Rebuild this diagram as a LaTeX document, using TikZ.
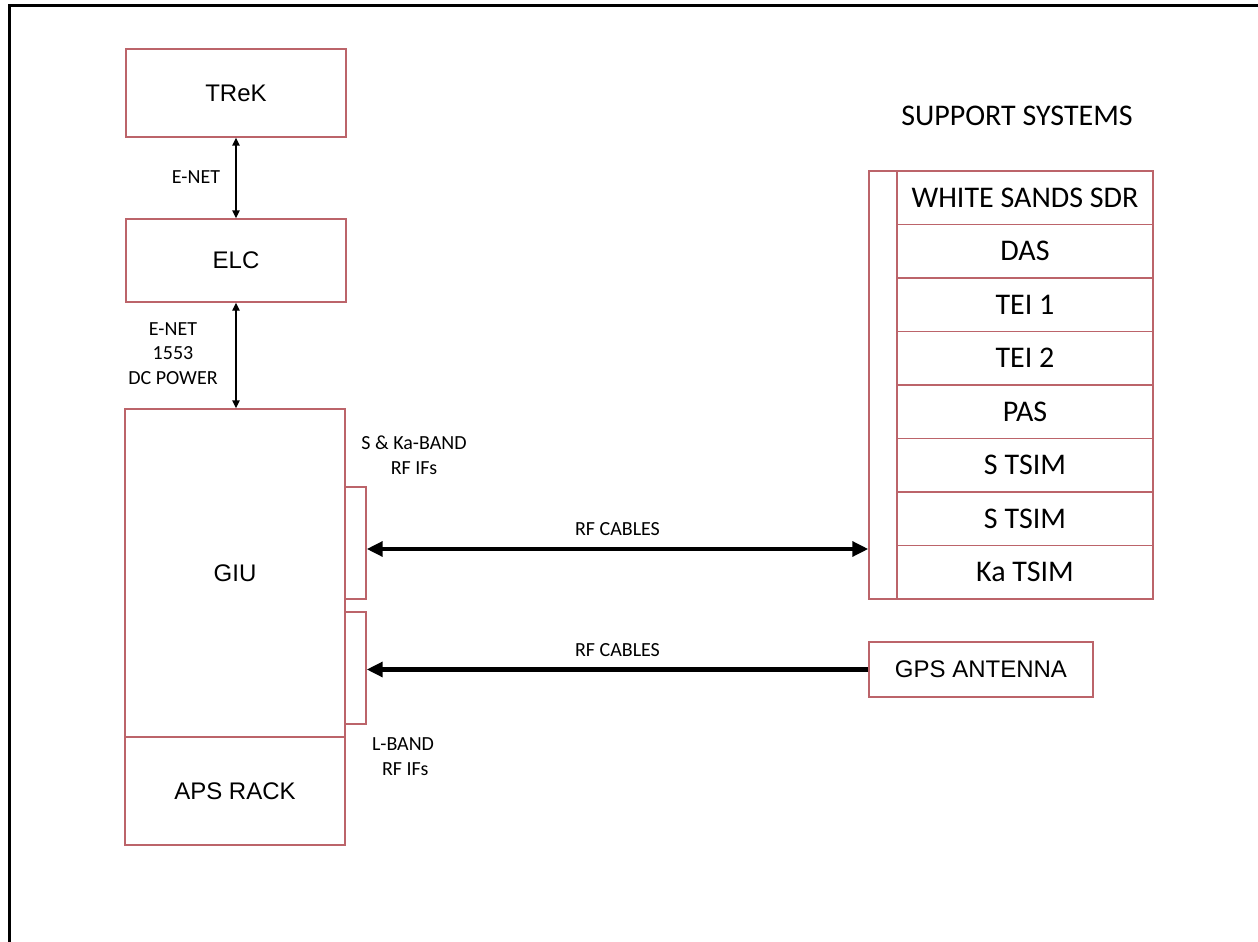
\documentclass[tikz,border=0pt]{standalone}
\usepackage{fontspec}
\setmainfont{Carlito}
\newfontfamily\arialfont{Liberation Sans}
\usetikzlibrary{arrows.meta}
\definecolor{boxred}{RGB}{188,100,106}

\begin{document}
\begin{tikzpicture}[x=0.75pt,y=-0.75pt,
    blk/.style={draw=boxred,line width=1pt,inner sep=0pt,minimum width=165pt,
        font=\arialfont\fontsize{18}{21}\selectfont},
    port/.style={draw=boxred,line width=1pt,inner sep=0pt,minimum width=15.75pt,minimum height=84pt},
    sysrow/.style={draw=boxred,line width=1pt,inner sep=0pt,minimum width=192pt,minimum height=40.125pt,
        font=\fontsize{22.5}{26}\selectfont},
    lbl/.style={align=center,inner sep=0pt,font=\fontsize{15}{18.6}\selectfont},
    link/.style={line width=1pt,{Triangle[length=6pt,width=5.5pt]}-{Triangle[length=6pt,width=5.5pt]}},
    cable/.style={line width=3.4pt,-{Triangle[length=12pt,width=11pt]}}]
    \useasboundingbox (0,0) rectangle (1258,942);
    % frame
    \draw[line width=2.25pt] (9.5,942) -- (9.5,5.8) -- (1258,5.8);

    % left column
    \node[blk,minimum height=66pt] (trek) at (236,93) {TReK};
    \node[blk,minimum height=62.25pt] (elc) at (236,260.5) {ELC};
    \node[blk,minimum height=246pt] (giu) at (235,573) {GIU};
    \node[blk,minimum height=81pt] (aps) at (235,791) {APS RACK};
    \node[port] (portA) at (355.5,543) {};
    \node[port] (portB) at (355.5,668) {};

    \draw[link] (trek.south) -- (elc.north);
    \draw[link] (elc.south) -- (elc.south |- giu.north);
    \node[lbl] (enetA) at (196,177) {E-NET};
    \node[lbl] (enetB) at (173,353.5) {E-NET\\1553\\DC POWER};
    \node[lbl] (sband) at (414,455.5) {S \& Ka-BAND\\RF IFs};
    \node[lbl] (lband) at (403,757) {L-BAND\\\ RF IFs};

    % support systems
    \node[font=\fontsize{22.5}{26}\selectfont,inner sep=0pt] (suptitle) at (1017,116) {SUPPORT SYSTEMS};
    \node[draw=boxred,line width=1pt,inner sep=0pt,minimum width=21pt,minimum height=321pt] (rail) at (883,385) {};
    \foreach \name [count=\i] in {WHITE SANDS SDR,DAS,TEI 1,TEI 2,PAS,S TSIM,S TSIM,Ka TSIM}
        \node[sysrow] (sys\i) at (1025,144.25+53.5*\i) {\name};
    \node[blk,minimum width=168pt,minimum height=41.25pt] (gps) at (981,669.5) {GPS ANTENNA};

    % rf cables
    \draw[cable,{Triangle[length=12pt,width=11pt]}-{Triangle[length=12pt,width=11pt]}]
        ([yshift=-4.5pt]portA.east) -- ([yshift=-4.5pt]portA.east -| rail.west)
        node[lbl,midway,above=8pt] (rfA) {RF CABLES};
    \draw[cable] (gps.west) -- (gps.west -| portB.east)
        node[lbl,midway,above=8pt] (rfB) {RF CABLES};
\end{tikzpicture}
\end{document}
